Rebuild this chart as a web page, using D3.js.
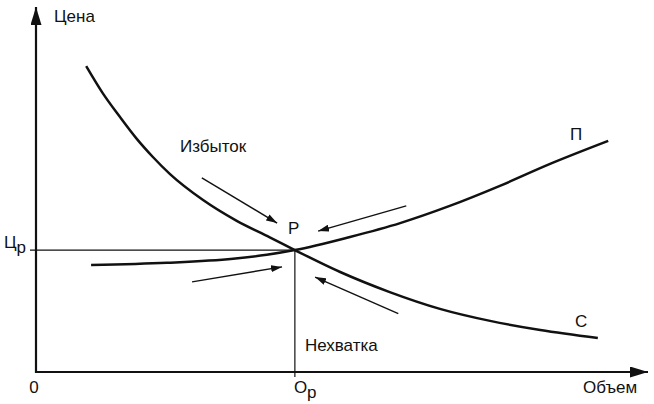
<!DOCTYPE html>
<html>
<head>
<meta charset="utf-8">
<script src="https://cdn.jsdelivr.net/npm/d3@7"></script>
<style>
  html, body { margin: 0; padding: 0; background: #fff; }
  svg { display: block; }
  text { font-family: "Liberation Sans", Arial, sans-serif; fill: #111; }
</style>
</head>
<body>
<svg id="chart" width="654" height="404"></svg>
<script>
// ---- data (model units: quantity 0..10, price 0..10) ----
const demandQ = [0.82, 1.09, 1.37, 1.65, 1.91, 2.19, 2.73, 3.28, 3.82, 4.23, 4.97, 5.78, 6.60, 7.42, 8.24, 9.18];
const demandP = [8.38, 7.64, 6.99, 6.38, 5.89, 5.42, 4.71, 4.14, 3.69, 3.34, 2.74, 2.19, 1.73, 1.40, 1.15, 0.93];
const supplyQ = [0.90, 2.14, 3.22, 3.77, 4.23, 5.13, 5.95, 6.76, 7.58, 8.40, 9.35];
const supplyP = [2.93, 2.99, 3.10, 3.21, 3.34, 3.70, 4.08, 4.55, 5.10, 5.70, 6.33];
const equilibrium = { q: 4.23, p: 3.34 };
// adjustment arrows: [tailQ, tailP, tipQ, tipP]
const arrowsData = [
  [2.71, 5.32, 3.94, 4.08],
  [6.05, 4.55, 4.61, 3.86],
  [2.55, 2.47, 4.02, 2.88],
  [5.92, 1.60, 4.56, 2.60]
];
const axisLabels = { y: "Цена", x: "Объем", origin: "0" };
const tickLabels = { price: ["Ц", "р"], quantity: ["О", "р"] };
const curveLabels = { demand: "С", supply: "П", point: "Р", surplus: "Избыток", shortage: "Нехватка" };

// ---- layout ----
const x = d3.scaleLinear().domain([0, 10]).range([36, 648]);
const y = d3.scaleLinear().domain([0, 10]).range([372, 7]);

const svg = d3.select("#chart");
const defs = svg.append("defs");
defs.append("marker").attr("id", "axisHead")
  .attr("viewBox", "0 0 18 11").attr("refX", 18).attr("refY", 5.5)
  .attr("markerWidth", 18).attr("markerHeight", 11)
  .attr("markerUnits", "userSpaceOnUse").attr("orient", "auto")
  .append("path").attr("d", "M0,0 L18,5.5 L0,11 Z").attr("fill", "#111");
defs.append("marker").attr("id", "smallHead")
  .attr("viewBox", "0 0 11 7").attr("refX", 11).attr("refY", 3.5)
  .attr("markerWidth", 11).attr("markerHeight", 7)
  .attr("markerUnits", "userSpaceOnUse").attr("orient", "auto")
  .append("path").attr("d", "M0,0 L11,3.5 L0,7 Z").attr("fill", "#111");

// guide lines
const ex = x(equilibrium.q), ey = y(equilibrium.p);
svg.append("line").attr("x1", x(0) - 6).attr("y1", ey).attr("x2", ex).attr("y2", ey)
  .attr("stroke", "#111").attr("stroke-width", 1.2);
svg.append("line").attr("x1", ex).attr("y1", ey).attr("x2", ex).attr("y2", y(0) + 5)
  .attr("stroke", "#111").attr("stroke-width", 1.2);

// axes
svg.append("line").attr("x1", x(0)).attr("y1", y(0) + 1).attr("x2", x(0)).attr("y2", y(10))
  .attr("stroke", "#111").attr("stroke-width", 2.2).attr("marker-end", "url(#axisHead)");
svg.append("line").attr("x1", x(0) - 1).attr("y1", y(0)).attr("x2", x(10)).attr("y2", y(0))
  .attr("stroke", "#111").attr("stroke-width", 2.2).attr("marker-end", "url(#axisHead)");

// curves
const line = d3.line().x(d => x(d[0])).y(d => y(d[1])).curve(d3.curveMonotoneX);
const demand = demandQ.map((q, i) => [q, demandP[i]]);
const supply = supplyQ.map((q, i) => [q, supplyP[i]]);
svg.append("path").attr("d", line(demand)).attr("fill", "none").attr("stroke", "#111").attr("stroke-width", 2.5);
svg.append("path").attr("d", line(supply)).attr("fill", "none").attr("stroke", "#111").attr("stroke-width", 2.5);

// arrows
svg.selectAll(".adj").data(arrowsData).enter().append("line")
  .attr("x1", d => x(d[0])).attr("y1", d => y(d[1]))
  .attr("x2", d => x(d[2])).attr("y2", d => y(d[3]))
  .attr("stroke", "#111").attr("stroke-width", 1.4).attr("marker-end", "url(#smallHead)");

// texts
const fs = 17;
function txt(t, px, py, anchor) {
  return svg.append("text").attr("x", px).attr("y", py).attr("font-size", fs)
    .attr("text-anchor", anchor || "start").text(t);
}
txt(axisLabels.y, x(0) + 18, 22);
txt(axisLabels.x, 583, y(0) + 21);
txt(axisLabels.origin, x(0) - 2, y(0) + 21, "middle");

const tq = svg.append("text").attr("x", ex - 1).attr("y", y(0) + 21).attr("font-size", fs);
tq.append("tspan").text(tickLabels.quantity[0]);
tq.append("tspan").attr("dy", 5).text(tickLabels.quantity[1]);

const tp = svg.append("text").attr("x", 4).attr("y", ey - 2).attr("font-size", fs);
tp.append("tspan").text(tickLabels.price[0]);
tp.append("tspan").attr("dy", 5).text(tickLabels.price[1]);

txt(curveLabels.point, ex - 7, ey - 16);
txt(curveLabels.surplus, 180, 152);
txt(curveLabels.shortage, ex + 10, 351);
txt(curveLabels.supply, 570, 140);
txt(curveLabels.demand, 575, 327);
</script>
</body>
</html>
